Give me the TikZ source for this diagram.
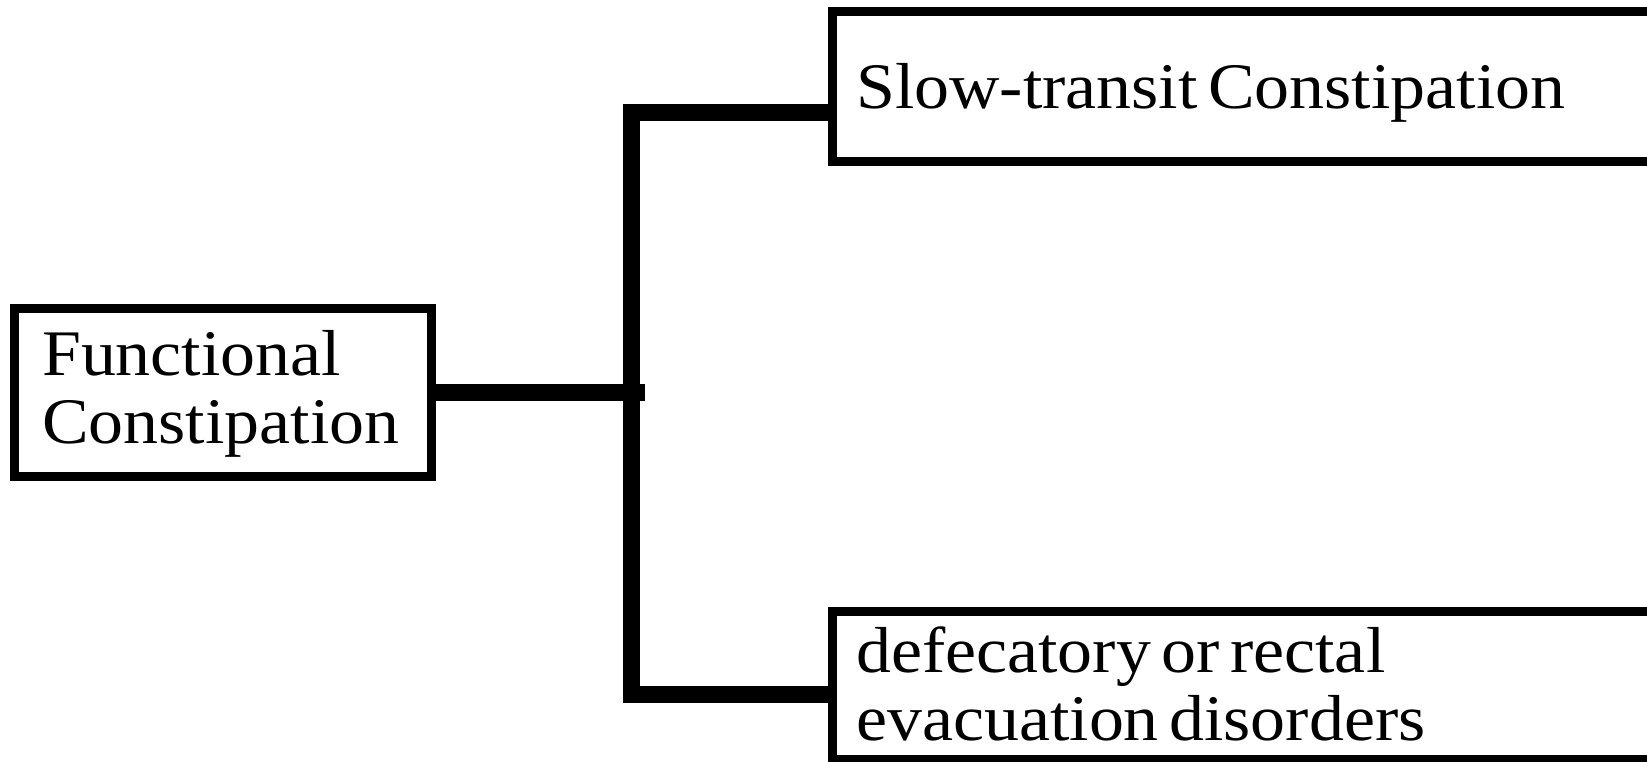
\documentclass[tikz,border=0pt]{standalone}
\usepackage{fontspec}
\setmainfont{Liberation Serif}[FakeStretch=1.075, WordSpace=0.6]
\begin{document}
\begin{tikzpicture}[x=1pt,y=-1pt,
  box/.style={draw, line width=9pt, inner sep=0pt, outer sep=0pt, anchor=north west},
  conn/.style={line width=17pt, line join=miter},
  lbl/.style={anchor=base west, inner sep=0pt, font=\fontsize{65}{68}\selectfont}]
\useasboundingbox (0,0) rectangle (1647,762);
\clip (0,0) rectangle (1647,762);
\node[box, minimum width=417.5pt, minimum height=168pt] (fc) at (14,308.5) {};
\node[box, minimum width=840pt, minimum height=149.5pt] (st) at (832,12) {};
\node[box, minimum width=840pt, minimum height=148.5pt] (de) at (832.5,611) {};
\node[lbl] (t1) at (42,375) {Functional};
\node[lbl] (t2) at (42,443) {Constipation};
\node[lbl] (t3) at (856,109) {Slow-transit Constipation};
\node[lbl] (t4) at (856,672) {defecatory or rectal};
\node[lbl] (t5) at (856,740) {evacuation disorders};
\coordinate (topj) at (631.5,113);
\coordinate (botj) at (631.5,694.5);
\coordinate (jend) at (645,392.5);
\draw[conn] (fc.east) -- (jend);
\draw[conn] (st.west |- topj) -- (topj) -- (botj) -- (de.west |- botj);
\end{tikzpicture}
\end{document}
